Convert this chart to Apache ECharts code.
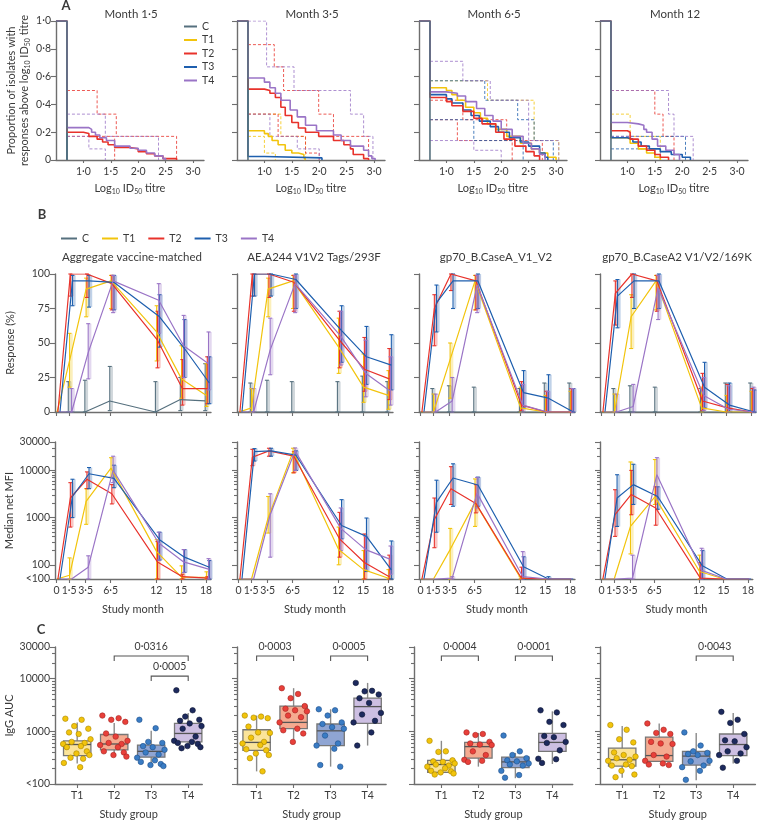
<!DOCTYPE html>
<html><head><meta charset="utf-8">
<script src="https://cdn.jsdelivr.net/npm/echarts@6/dist/echarts.min.js"></script>
<style>html,body{margin:0;padding:0;background:#fff}#c{width:757px;height:822px}</style>
</head><body><div id="c"></div>
<script>
// ================= DATA =================
const groups = ['C','T1','T2','T3','T4'];
const boxGroups = ['T1','T2','T3','T4'];
const months = [0,1.5,3.5,6.5,12,15,18];
const monthLabels = ['0','1·5','3·5','6·5','12','15','18'];
const panelATitles = ['Month 1·5','Month 3·5','Month 6·5','Month 12'];
const antigenTitles = ['Aggregate vaccine-matched','AE.A244 V1V2 Tags/293F','gp70_B.CaseA_V1_V2','gp70_B.CaseA2 V1/V2/169K'];
const titreTicks = [1,1.5,2,2.5,3];
const propTicks = [0,0.2,0.4,0.6,0.8,1.0];
const respTicks = [0,25,50,75,100];
const mfiTickValues = [50,100,1000,10000,40000];
const mfiTickLabels = ['<100','100','1000','10000','30000'];
const aucTickValues = [100,1000,10000,40000];
const aucTickLabels = ['<100','1000','10000','30000'];
const logMinorTicks = [200,300,400,500,600,700,800,900,2000,3000,4000,5000,6000,7000,8000,9000,20000,30000];

// ---- Panel A: proportion of isolates above titre (step curves [log10 titre, proportion]) ----
const a1_C  = [[0.5,1],[0.7,0]];
const a1_T1 = [[0.5,1],[0.7,0]];
const a1_T3 = [[0.5,1],[0.7,0]];
const a1_T2 = [[0.5,1],[0.7,0.20],[1.0,0.19],[1.1,0.17],[1.25,0.15],[1.35,0.13],[1.45,0.11],[1.57,0.09],[1.85,0.08],[2.0,0.06],[2.15,0.045],[2.3,0.03],[2.45,0.01],[2.7,0]];
const a1_T4 = [[0.5,1],[0.7,0.233],[1.1,0.22],[1.15,0.20],[1.22,0.18],[1.3,0.16],[1.42,0.14],[1.57,0.10],[1.85,0.085],[2.0,0.07],[2.15,0.05],[2.3,0.03],[2.45,0.01],[2.5,0]];
const a1_T2_hi = [[0.7,0.5],[1.25,0.33],[1.6,0.17],[2.7,0]];
const a1_T2_lo = [[0.7,0.17],[1.57,0]];
const a1_T4_hi = [[0.7,0.33],[1.4,0.17],[2.37,0]];
const a1_T4_lo = [[0.7,0.17],[1.1,0.08],[1.4,0]];

const a2_C  = [[0.5,1],[0.7,0]];
const a2_T1 = [[0.5,1],[0.7,0.21],[1.0,0.19],[1.07,0.17],[1.14,0.14],[1.25,0.11],[1.38,0.07],[1.5,0.05],[1.62,0.04],[1.72,0.02],[1.75,0]];
const a2_T2 = [[0.5,1],[0.7,0.51],[1.0,0.50],[1.1,0.48],[1.2,0.45],[1.3,0.38],[1.38,0.32],[1.5,0.27],[1.62,0.23],[1.75,0.20],[1.99,0.17],[2.26,0.14],[2.45,0.11],[2.57,0.08],[2.62,0.04],[2.81,0.01],[2.9,0]];
const a2_T3 = [[0.5,1],[0.7,0.025],[1.0,0.015],[2.05,0]];
const a2_T4 = [[0.5,1],[0.7,0.59],[1.0,0.56],[1.1,0.52],[1.2,0.48],[1.3,0.43],[1.47,0.36],[1.6,0.31],[1.75,0.25],[1.95,0.21],[2.26,0.18],[2.4,0.14],[2.57,0.10],[2.81,0.07],[2.9,0.03],[2.96,0.01],[3.02,0]];
const a2_T4_hi = [[0.7,1.0],[1.04,0.67],[1.54,0.5],[2.57,0.33],[2.81,0.17],[2.98,0]];
const a2_T4_lo = [[0.7,0.33],[1.1,0.17],[1.6,0.08],[2.0,0]];
const a2_T2_hi = [[0.7,0.83],[1.18,0.67],[1.35,0.5],[1.99,0.33],[2.26,0.17],[2.9,0]];
const a2_T2_lo = [[0.7,0.33],[1.25,0.17],[1.75,0.05],[2.0,0]];
const a2_T1_hi = [[0.7,0.33],[1.3,0.17],[1.75,0]];
const a2_T1_lo = [[0.7,0.17],[1.0,0.05],[1.2,0]];

const a3_C  = [[0.5,1],[0.7,0]];
const a3_T1 = [[0.5,1],[0.7,0.52],[1.0,0.50],[1.1,0.47],[1.2,0.43],[1.35,0.38],[1.5,0.34],[1.62,0.30],[1.75,0.26],[1.9,0.22],[2.1,0.17],[2.35,0.12],[2.55,0.08],[2.7,0.05],[2.85,0.02],[3.0,0]];
const a3_T2 = [[0.5,1],[0.7,0.45],[1.0,0.42],[1.1,0.39],[1.3,0.35],[1.5,0.30],[1.65,0.26],[1.9,0.20],[2.05,0.15],[2.25,0.10],[2.45,0.06],[2.6,0.03],[2.7,0]];
const a3_T3 = [[0.5,1],[0.7,0.47],[1.0,0.44],[1.1,0.41],[1.3,0.36],[1.45,0.32],[1.6,0.28],[1.8,0.24],[1.95,0.20],[2.15,0.16],[2.35,0.13],[2.5,0.10],[2.7,0.05],[2.8,0.02],[2.85,0]];
const a3_T4 = [[0.5,1],[0.7,0.49],[1.0,0.48],[1.2,0.46],[1.35,0.42],[1.55,0.37],[1.7,0.32],[1.85,0.28],[2.0,0.22],[2.2,0.17],[2.4,0.12],[2.55,0.08],[2.7,0.04],[2.8,0]];
const a3_T4_hi = [[0.7,0.71],[1.3,0.57],[1.8,0.43],[2.5,0.14],[3.05,0]];
const a3_T1_hi = [[0.7,0.57],[1.75,0.43],[2.6,0.14],[3.05,0]];
const a3_T3_hi = [[0.7,0.57],[1.7,0.43],[2.3,0.29],[2.6,0.14],[2.95,0]];
const a3_T2_hi = [[0.7,0.43],[1.3,0.29],[2.1,0.14],[2.75,0]];
const a3_T3_lo = [[0.7,0.29],[1.5,0.14],[2.4,0]];
const a3_T4_lo = [[0.7,0.14],[1.5,0.07],[2.0,0]];
const a3_T2_lo = [[0.7,0.29],[1.2,0.14],[2.2,0]];

const a4_C  = [[0.5,1],[0.7,0]];
const a4_T1 = [[0.5,1],[0.7,0.16],[1.0,0.15],[1.05,0.12],[1.2,0.08],[1.35,0.05],[1.5,0.02],[1.6,0]];
const a4_T2 = [[0.5,1],[0.7,0.21],[1.0,0.20],[1.05,0.15],[1.2,0.10],[1.35,0.07],[1.5,0.04],[1.6,0.02],[1.75,0]];
const a4_T3 = [[0.5,1],[0.7,0.16],[1.0,0.15],[1.1,0.13],[1.25,0.10],[1.4,0.08],[1.6,0.06],[1.8,0.04],[2.0,0.02],[2.15,0]];
const a4_T4 = [[0.5,1],[0.7,0.27],[1.0,0.26],[1.2,0.25],[1.3,0.22],[1.35,0.20],[1.45,0.15],[1.55,0.10],[1.7,0.07],[1.85,0.04],[1.95,0]];
const a4_T2_hi = [[0.7,0.5],[1.5,0.33],[1.65,0.17],[1.85,0]];
const a4_T4_hi = [[0.7,0.5],[1.75,0.33],[1.85,0.17],[2.2,0]];
const a4_T1_hi = [[0.7,0.33],[1.05,0.17],[1.6,0]];
const a4_T3_hi = [[0.7,0.17],[2.06,0]];
const a4_T3_lo = [[0.7,0.08],[1.5,0]];
const a4_T4_lo = [[0.7,0.17],[1.2,0.08],[1.6,0]];

// ---- Panel B: response (%) medians and CIs (CI for months 1.5..18) ----
const rAgg_C  = [0,0,0,8,0,9,8];      const rAgg_C_ci  = [[0,22],[0,23],[1,33],[0,22],[1,25],[1,35]];
const rAgg_T1 = [0,37,89,95,58,24,12]; const rAgg_T1_ci = [[18,57],[69,97],[75,99],[37,77],[10,48],[4,35]];
const rAgg_T2 = [0,100,100,93,52,17,17]; const rAgg_T2_ci = [[84,100],[83,100],[74,99],[32,73],[5,38],[6,40]];
const rAgg_T3 = [0,95,95,94,69,46,21]; const rAgg_T3_ci = [[77,99],[76,99],[74,99],[47,85],[25,67],[6,40]];
const rAgg_T4 = [0,0,43,95,81,48,35];  const rAgg_T4_ci = [[0,17],[24,64],[72,99],[57,93],[25,70],[16,58]];

const rAE_C  = [0,0,0,0,0,0,0];        const rAE_C_ci  = [[0,21],[0,23],[0,22],[0,22],[0,26],[0,22]];
const rAE_T1 = [0,3,89,95,47,18,12];   const rAE_T1_ci = [[0,17],[69,97],[75,99],[28,68],[7,42],[2,30]];
const rAE_T2 = [0,100,100,94,52,31,24]; const rAE_T2_ci = [[84,100],[83,100],[73,99],[32,73],[15,54],[9,46]];
const rAE_T3 = [0,100,100,96,59,40,34]; const rAE_T3_ci = [[84,100],[84,100],[75,100],[36,77],[20,62],[16,56]];
const rAE_T4 = [0,0,45,93,55,28,15];   const rAE_T4_ci = [[0,17],[27,68],[72,99],[34,73],[11,52],[5,40]];

const rCA_C  = [0,0,0,0,0,0,0];        const rCA_C_ci  = [[0,17],[0,19],[0,18],[0,17],[0,21],[0,21]];
const rCA_T1 = [0,0,38,95,3,0,0];      const rCA_T1_ci = [[0,13],[10,50],[74,99],[0,18],[0,12],[0,15]];
const rCA_T2 = [0,75,100,95,5,0,0];    const rCA_T2_ci = [[48,85],[88,100],[74,99],[1,22],[0,15],[0,17]];
const rCA_T3 = [0,79,95,95,14,10,0];   const rCA_T3_ci = [[58,92],[75,100],[75,100],[3,30],[0,27],[0,17]];
const rCA_T4 = [0,0,8,92,5,0,0];       const rCA_T4_ci = [[0,13],[0,25],[72,99],[0,20],[0,15],[0,17]];

const rCA2_C  = [0,0,0,0,0,0,0];       const rCA2_C_ci  = [[0,17],[0,19],[0,18],[0,17],[0,21],[0,21]];
const rCA2_T1 = [0,0,69,95,3,0,0];     const rCA2_T1_ci = [[0,13],[46,85],[74,99],[0,18],[0,12],[0,15]];
const rCA2_T2 = [0,86,100,95,8,3,0];   const rCA2_T2_ci = [[63,95],[83,100],[73,99],[1,28],[0,20],[0,17]];
const rCA2_T3 = [0,84,95,95,18,5,0];   const rCA2_T3_ci = [[61,96],[75,100],[75,100],[3,36],[0,21],[0,16]];
const rCA2_T4 = [0,0,4,90,12,2,0];     const rCA2_T4_ci = [[0,13],[0,20],[67,99],[1,25],[0,19],[0,18]];

// ---- Panel B: median net MFI (50 = "<100") ----
const mAgg_T1 = [50,60,2200,11200,190,55,54];   const mAgg_T1_ci = [[50,140],[720,4100],[7200,18600],[50,340],[50,95],[50,71]];
const mAgg_T2 = [50,2600,6500,3200,115,56,52];  const mAgg_T2_ci = [[630,5500],[4100,9300],[1950,5000],[50,310],[50,63],[50,56]];
const mAgg_T3 = [50,2800,8500,6800,340,145,89]; const mAgg_T3_ci = [[1000,6500],[4100,11500],[4300,12900],[126,490],[69,210],[50,123]];
const mAgg_T4 = [50,50,89,10000,290,115,81];    const mAgg_T4_ci = [[50,50],[50,155],[5500,20000],[126,490],[68,210],[50,135]];

const mAE_T1 = [50,50,980,25000,210,79,52];     const mAE_T1_ci = [[50,50],[470,2800],[8900,29500],[100,630],[50,200],[50,79]];
const mAE_T2 = [50,19000,26000,20000,355,112,56]; const mAE_T2_ci = [[12600,28000],[20000,29500],[8900,25000],[145,1290],[50,450],[50,160]];
const mAE_T3 = [50,25000,26000,21000,680,400,78]; const mAE_T3_ci = [[15800,29000],[20000,29500],[10000,26000],[355,2400],[72,980],[50,320]];
const mAE_T4 = [50,50,1150,26000,590,210,130];  const mAE_T4_ci = [[50,50],[145,3200],[10000,30000],[200,1600],[79,400],[63,250]];

const mCA_T1 = [50,50,210,2100,52,50,50];       const mCA_T1_ci = [[50,50],[50,590],[650,6600],[50,56],[50,50],[50,50]];
const mCA_T2 = [50,910,4100,2000,52,50,50];     const mCA_T2_ci = [[230,2600],[1900,12000],[1260,5000],[50,89],[50,50],[50,50]];
const mCA_T3 = [50,2100,6900,4900,91,50,50];    const mCA_T3_ci = [[490,6200],[1740,13800],[1740,7200],[50,148],[50,56],[50,50]];
const mCA_T4 = [50,50,52,3300,56,50,50];        const mCA_T4_ci = [[50,50],[50,56],[1600,7100],[50,190],[50,50],[50,50]];

const mCA2_T1 = [50,50,650,2750,72,50,50];      const mCA2_T1_ci = [[50,50],[170,15100],[1900,17000],[50,160],[50,50],[50,50]];
const mCA2_T2 = [50,1150,3100,1600,52,50,50];   const mCA2_T2_ci = [[400,3900],[1150,10000],[690,4500],[50,112],[50,50],[50,50]];
const mCA2_T3 = [50,2600,5000,2800,95,50,50];   const mCA2_T3_ci = [[650,8100],[1900,13500],[1500,4500],[50,200],[50,50],[50,50]];
const mCA2_T4 = [50,50,52,8100,76,50,50];       const mCA2_T4_ci = [[50,50],[50,160],[2400,18600],[50,224],[50,50],[50,50]];

// ---- Panel C: IgG AUC (log10) per animal, and box stats [min, Q1, median, Q3, max] ----
const c1_T1 = [3.24,3.22,3.10,3.05,2.98,2.95,2.85,2.80,2.78,2.76,2.72,2.70,2.62,2.58,2.55,2.50,2.48,2.40,2.32];
const c1_T2 = [3.30,3.25,3.22,3.18,2.96,2.90,2.82,2.78,2.76,2.74,2.70,2.62,2.60,2.55,2.52];
const c1_T3 = [3.22,3.06,2.80,2.78,2.72,2.70,2.65,2.60,2.56,2.50,2.45,2.42,2.38,2.36,2.34];
const c1_T4 = [3.78,3.40,3.28,3.22,3.20,3.15,3.10,3.05,2.90,2.82,2.80,2.78,2.76,2.72,2.70,2.68];
const c2_T1 = [3.30,3.28,3.26,3.25,3.09,2.98,2.97,2.88,2.80,2.77,2.74,2.66,2.64,2.58,2.55,2.49,2.24];
const c2_T2 = [3.82,3.71,3.63,3.48,3.43,3.40,3.38,3.30,3.27,3.17,3.05,3.02,2.96,2.80];
const c2_T3 = [3.42,3.40,3.30,3.17,3.14,3.08,3.05,2.92,2.77,2.73,2.67,2.36,2.33];
const c2_T4 = [3.92,3.77,3.76,3.70,3.63,3.54,3.35,3.32,3.20,3.17,2.98,2.73];
const c3_T1 = [2.82,2.62,2.61,2.45,2.43,2.42,2.39,2.37,2.35,2.33,2.30,2.25,2.24,2.22,2.20,2.18];
const c3_T2 = [2.98,2.95,2.93,2.80,2.77,2.75,2.74,2.62,2.55,2.46,2.44,2.42];
const c3_T3 = [2.92,2.62,2.55,2.49,2.45,2.43,2.39,2.37,2.35,2.25,2.17,2.12];
const c3_T4 = [3.40,3.36,3.18,3.12,2.91,2.89,2.80,2.78,2.64,2.48,2.47,2.40];
const c4_T1 = [3.12,3.03,2.85,2.79,2.60,2.55,2.52,2.49,2.46,2.44,2.37,2.35,2.34,2.25,2.18,2.13];
const c4_T2 = [3.15,3.03,2.97,2.95,2.80,2.77,2.76,2.55,2.52,2.44,2.39,2.37,2.36];
const c4_T3 = [2.98,2.73,2.62,2.59,2.57,2.55,2.44,2.43,2.35,2.32,2.25,2.08];
const c4_T4 = [3.37,3.22,3.16,2.95,2.83,2.81,2.70,2.62,2.58,2.55,2.44,2.31];
const c1_box = [[2.39,2.54,2.75,2.82,3.17],[2.54,2.65,2.76,2.94,3.16],[2.39,2.51,2.62,2.74,3.01],[2.70,2.80,2.96,3.15,3.35]];
const c2_box = [[2.24,2.64,2.79,3.03,3.30],[2.79,3.05,3.17,3.48,3.82],[2.33,2.73,3.01,3.14,3.42],[2.73,3.15,3.47,3.63,3.92]];
const c3_box = [[2.17,2.22,2.37,2.45,2.82],[2.33,2.49,2.71,2.79,2.97],[2.11,2.31,2.42,2.51,2.59],[2.38,2.62,2.79,2.96,3.38]];
const c4_box = [[2.12,2.34,2.46,2.68,3.10],[2.43,2.43,2.54,2.89,3.15],[2.07,2.36,2.53,2.62,2.97],[2.39,2.54,2.75,2.95,3.35]];
// significance: [group a, group b, p-value label, bracket level]
const c1_sig = [[2,4,'0·0316',0],[3,4,'0·0005',1]];
const c2_sig = [[1,2,'0·0003',0],[3,4,'0·0005',0]];
const c3_sig = [[1,2,'0·0004',0],[3,4,'0·0001',0]];
const c4_sig = [[3,4,'0·0043',0]];

// ================= STYLE =================
const FONT = 'Lato, "Noto Sans", sans-serif';
const TXT = '#3a3a3a';
const AXC = '#6e6e6e';
const COL = {C:'#56707e', T1:'#f2c40c', T2:'#e8322b', T3:'#1e5fae', T4:'#9a74c6'};
const colArr = groups.map(g => COL[g]);
const DODGE = [-0.1, 0.05, 0.15, 0.4, 0.3];
const A_DRAW_ORDER = [1,3,2,4,0];
const BOXFILL = ['#fbe49a','#f5aa90','#8fa5d3','#cdbfe2'];
const PTCOL = ['#f2c40c','#e8403a','#3a7cc4','#1d2a5e'];
const PTBORDER = ['#a88400','#a52420','#1f4f8a','#0d1533'];
const JIT = [-0.32,0.12,-0.08,0.3,-0.22,0.04,0.36,-0.15,0.2,-0.38,0.1,-0.28,0.26,-0.02,0.33,-0.18,0.16,-0.36,0.08,0.24];
const BRACKET_LEVEL = [Math.log10(27000), Math.log10(11200)];
const RICH = {s:{fontSize:7, lineHeight:8, verticalAlign:'bottom', fontFamily:FONT, color:TXT}};
const L10 = Math.log10;

const aCurves = [
  [a1_C,a1_T1,a1_T2,a1_T3,a1_T4],
  [a2_C,a2_T1,a2_T2,a2_T3,a2_T4],
  [a3_C,a3_T1,a3_T2,a3_T3,a3_T4],
  [a4_C,a4_T1,a4_T2,a4_T3,a4_T4]
];
const aCI = [
  [['T2',a1_T2_hi],['T2',a1_T2_lo],['T4',a1_T4_hi],['T4',a1_T4_lo]],
  [['T1',a2_T1_hi],['T1',a2_T1_lo],['T2',a2_T2_hi],['T2',a2_T2_lo],['T4',a2_T4_hi],['T4',a2_T4_lo]],
  [['T1',a3_T1_hi],['T2',a3_T2_hi],['T2',a3_T2_lo],['T3',a3_T3_hi],['T3',a3_T3_lo],['T4',a3_T4_hi],['T4',a3_T4_lo]],
  [['T1',a4_T1_hi],['T2',a4_T2_hi],['T3',a4_T3_hi],['T3',a4_T3_lo],['T4',a4_T4_hi],['T4',a4_T4_lo]]
];
const respSets = [
  [rAgg_C,rAgg_T1,rAgg_T2,rAgg_T3,rAgg_T4],
  [rAE_C,rAE_T1,rAE_T2,rAE_T3,rAE_T4],
  [rCA_C,rCA_T1,rCA_T2,rCA_T3,rCA_T4],
  [rCA2_C,rCA2_T1,rCA2_T2,rCA2_T3,rCA2_T4]
];
const respCISets = [
  [rAgg_C_ci,rAgg_T1_ci,rAgg_T2_ci,rAgg_T3_ci,rAgg_T4_ci],
  [rAE_C_ci,rAE_T1_ci,rAE_T2_ci,rAE_T3_ci,rAE_T4_ci],
  [rCA_C_ci,rCA_T1_ci,rCA_T2_ci,rCA_T3_ci,rCA_T4_ci],
  [rCA2_C_ci,rCA2_T1_ci,rCA2_T2_ci,rCA2_T3_ci,rCA2_T4_ci]
];
const mfiSets = [
  [null,mAgg_T1,mAgg_T2,mAgg_T3,mAgg_T4],
  [null,mAE_T1,mAE_T2,mAE_T3,mAE_T4],
  [null,mCA_T1,mCA_T2,mCA_T3,mCA_T4],
  [null,mCA2_T1,mCA2_T2,mCA2_T3,mCA2_T4]
];
const mfiCISets = [
  [null,mAgg_T1_ci,mAgg_T2_ci,mAgg_T3_ci,mAgg_T4_ci],
  [null,mAE_T1_ci,mAE_T2_ci,mAE_T3_ci,mAE_T4_ci],
  [null,mCA_T1_ci,mCA_T2_ci,mCA_T3_ci,mCA_T4_ci],
  [null,mCA2_T1_ci,mCA2_T2_ci,mCA2_T3_ci,mCA2_T4_ci]
];
const cPoints = [[c1_T1,c1_T2,c1_T3,c1_T4],[c2_T1,c2_T2,c2_T3,c2_T4],[c3_T1,c3_T2,c3_T3,c3_T4],[c4_T1,c4_T2,c4_T3,c4_T4]];
const cBoxes = [c1_box,c2_box,c3_box,c4_box];
const cSig = [c1_sig,c2_sig,c3_sig,c4_sig];

// ================= BUILD =================
const fmtDot = (v,d) => v.toFixed(d).replace('.', '·');
const grids = [], xAxes = [], yAxes = [], series = [], graphics = [];

function mkAxis(o){
  return {
    type:'value', gridIndex:o.grid, min:o.min, max:o.max, position:o.position,
    axisLine:{show:o.line!==false, onZero:false, lineStyle:{color:AXC, width:1.4}},
    axisTick:{show:true, length:o.tickLen||4, customValues:o.ticks, lineStyle:{color:AXC, width:1.1}},
    axisLabel:{show:!!o.labels, customValues:o.ticks, formatter:o.fmt, color:TXT, fontSize:10.5, fontFamily:FONT, margin:o.margin||5},
    splitLine:{show:false},
    name:o.name||'', nameLocation:'middle', nameGap:o.nameGap||24,
    nameTextStyle:{color:TXT, fontSize:11, fontFamily:FONT, lineHeight:13, rich:RICH}
  };
}
function lookupFmt(vals, labels){ return v => { const i = vals.findIndex(t => Math.abs(t - v) < 1e-6); return i >= 0 ? labels[i] : ''; }; }
function addText(t, x, y, size, bold){
  graphics.push({type:'text', x:x, y:y, silent:true, style:{text:t, font:(bold?'bold ':'')+size+'px '+FONT, fill:TXT, align:'center', verticalAlign:'middle', textAlign:'center', textVerticalAlign:'middle'}});
}

// ---------- Panel A ----------
const aLeft = [56,237,419,600];
for (let m = 0; m < 4; m++){
  grids.push({left:aLeft[m], top:21, width:148, height:139});
  xAxes.push(mkAxis({grid:m, min:0.5, max:3.2, ticks:titreTicks, labels:true, fmt:v=>fmtDot(v,1), tickLen:3, margin:6,
    name:'Log{s|10} ID{s|50} titre', nameGap:22}));
  yAxes.push(mkAxis({grid:m, min:0, max:1, ticks:propTicks, labels:m===0, fmt:v=> v===0?'0':fmtDot(v,1), tickLen:5, position:'left',
    name: m===0 ? 'Proportion of isolates with\nresponses above log{s|10} ID{s|50} titre' : '', nameGap:25}));
  aCI[m].forEach(([g, pts]) => series.push({type:'line', name:g+' CI', xAxisIndex:m, yAxisIndex:m, data:pts, step:'end',
    symbol:'none', silent:true, lineStyle:{color:COL[g], width:1, type:[3,2], opacity:0.8}, z:1}));
  A_DRAW_ORDER.forEach(k => { const g = groups[k]; series.push({type:'line', name:g, xAxisIndex:m, yAxisIndex:m, data:aCurves[m][k], step:'end',
    symbol:'none', silent:true, lineStyle:{color:COL[g], width:1.6}, itemStyle:{color:COL[g]}, z:3}); });
  addText(panelATitles[m], aLeft[m]+75, 14, 11.5);
}

// ---------- Panel B ----------
const bLeft = [55,237,419,600];
function errRender(params, api){
  const mo = api.value(0), lo = api.value(1), hi = api.value(2), g = api.value(3);
  const x = mo + DODGE[g];
  const pLo = api.coord([x, lo]), pHi = api.coord([x, hi]);
  const h = pLo[1] - pHi[1];
  if (h < 0.8) return null;
  const c = colArr[g];
  return {type:'group', children:[
    {type:'rect', shape:{x:pLo[0]+0.6, y:pHi[1], width:2.6, height:h}, style:{fill:c, opacity:0.28}},
    {type:'line', shape:{x1:pLo[0], y1:pLo[1], x2:pHi[0], y2:pHi[1]}, style:{stroke:c, lineWidth:1.1}},
    {type:'line', shape:{x1:pLo[0]-2, y1:pLo[1], x2:pLo[0]+2, y2:pLo[1]}, style:{stroke:c, lineWidth:1.1}},
    {type:'line', shape:{x1:pHi[0]-2, y1:pHi[1], x2:pHi[0]+2, y2:pHi[1]}, style:{stroke:c, lineWidth:1.1}}
  ]};
}
const mfiTickLog = mfiTickValues.map(L10);
const aucTickLog = aucTickValues.map(L10);
const minorLog = logMinorTicks.map(L10);
const minorAxes = [];
for (let s = 0; s < 4; s++){
  // response row
  const gi = 4 + s;
  grids.push({left:bLeft[s], top:274, width:156, height:138});
  xAxes.push(mkAxis({grid:gi, min:-0.2, max:18.6, ticks:months, labels:false, tickLen:4}));
  yAxes.push(mkAxis({grid:gi, min:0, max:100, ticks:respTicks, labels:s===0, tickLen:5, position:'left', name:s===0?'Response (%)':'', nameGap:38}));
  const errR = [];
  groups.forEach((g,k) => respCISets[s][k].forEach((ci,i) => errR.push([months[i+1], ci[0], ci[1], k])));
  series.push({type:'custom', name:'resp-err', xAxisIndex:gi, yAxisIndex:gi, renderItem:errRender, data:errR, silent:true, z:2});
  groups.forEach((g,k) => series.push({type:'line', name:g, xAxisIndex:gi, yAxisIndex:gi, symbol:'none', silent:true,
    data:respSets[s][k].map((v,i) => [months[i]+DODGE[k], v]), lineStyle:{color:COL[g], width:1.2}, itemStyle:{color:COL[g]}, z:3}));
  addText(antigenTitles[s], bLeft[s]+77, 257, 11.5);
}
for (let s = 0; s < 4; s++){
  // MFI row
  const gi = 8 + s;
  grids.push({left:bLeft[s], top:442, width:156, height:137});
  xAxes.push(mkAxis({grid:gi, min:-0.2, max:18.6, ticks:months, labels:true, fmt:lookupFmt(months, monthLabels), tickLen:4, margin:6,
    name:'Study month', nameGap:24}));
  yAxes.push(mkAxis({grid:gi, min:L10(50), max:L10(40000), ticks:mfiTickLog, labels:s===0, fmt:lookupFmt(mfiTickLog, mfiTickLabels),
    tickLen:5, position:'left', name:s===0?'Median net MFI':'', nameGap:38}));
  minorAxes.push(mkAxis({grid:gi, min:L10(50), max:L10(40000), ticks:minorLog, labels:false, tickLen:3, line:false, position:'left'}));
  const errM = [];
  groups.forEach((g,k) => { if (mfiCISets[s][k]) mfiCISets[s][k].forEach((ci,i) => errM.push([months[i+1], L10(ci[0]), L10(ci[1]), k])); });
  series.push({type:'custom', name:'mfi-err', xAxisIndex:gi, yAxisIndex:gi, renderItem:errRender, data:errM, silent:true, z:2});
  groups.forEach((g,k) => { if (mfiSets[s][k]) series.push({type:'line', name:g, xAxisIndex:gi, yAxisIndex:gi, symbol:'none', silent:true,
    data:mfiSets[s][k].map((v,i) => [months[i]+DODGE[k], L10(v)]), lineStyle:{color:COL[g], width:1.2}, itemStyle:{color:COL[g]}, z:3}); });
}

// ---------- Panel C ----------
const cLeft = [55,237,414,600];
const cMin = [0.4,0.47,0.26,0.4];
const cMax = [4.38,4.5,4.55,4.6];
function boxRender(params, api){
  const x = api.value(0), lo = api.value(1), q1 = api.value(2), med = api.value(3), q3 = api.value(4), hi = api.value(5), g = api.value(6);
  const w = api.size([0.74, 0])[0];
  const pLo = api.coord([x, lo]), pQ1 = api.coord([x, q1]), pM = api.coord([x, med]), pQ3 = api.coord([x, q3]), pHi = api.coord([x, hi]);
  return {type:'group', children:[
    {type:'line', shape:{x1:pLo[0], y1:pLo[1], x2:pHi[0], y2:pHi[1]}, style:{stroke:'#8a8a8a', lineWidth:1.4}},
    {type:'rect', shape:{x:pQ3[0]-w/2, y:pQ3[1], width:w, height:Math.max(pQ1[1]-pQ3[1],1)}, style:{fill:BOXFILL[g], stroke:'#777', lineWidth:1.3}},
    {type:'line', shape:{x1:pM[0]-w/2, y1:pM[1], x2:pM[0]+w/2, y2:pM[1]}, style:{stroke:'#555', lineWidth:1.3}}
  ]};
}
function sigRender(s){
  return function(params, api){
    const b = cSig[s][params.dataIndex];
    const yv = BRACKET_LEVEL[b[3]];
    const p1 = api.coord([b[0], yv]), p2 = api.coord([b[1], yv]);
    return {type:'group', children:[
      {type:'polyline', shape:{points:[[p1[0],p1[1]+5],[p1[0],p1[1]],[p2[0],p2[1]],[p2[0],p2[1]+5]]}, style:{stroke:'#555', lineWidth:1.1, fill:'none'}},
      {type:'text', x:(p1[0]+p2[0])/2, y:p1[1]-9, style:{text:b[2], font:'10.5px '+FONT, fill:TXT, align:'center', verticalAlign:'middle', textAlign:'center', textVerticalAlign:'middle'}}
    ]};
  };
}
for (let s = 0; s < 4; s++){
  const gi = 12 + s;
  grids.push({left:cLeft[s], top:647, width:(cMax[s]-cMin[s])*37, height:139});
  xAxes.push(mkAxis({grid:gi, min:cMin[s], max:cMax[s], ticks:[1,2,3,4], labels:true, fmt:v=>boxGroups[Math.round(v)-1], tickLen:4, margin:6,
    name:'Study group', nameGap:24}));
  yAxes.push(mkAxis({grid:gi, min:L10(100), max:L10(40000), ticks:aucTickLog, labels:s===0, fmt:lookupFmt(aucTickLog, aucTickLabels),
    tickLen:5, position:'left', name:s===0?'IgG AUC':'', nameGap:38}));
  minorAxes.push(mkAxis({grid:gi, min:L10(100), max:L10(40000), ticks:minorLog, labels:false, tickLen:3, line:false, position:'left'}));
  series.push({type:'custom', name:'box', xAxisIndex:gi, yAxisIndex:gi, renderItem:boxRender, silent:true, z:2,
    data:cBoxes[s].map((b,k) => [k+1, b[0], b[1], b[2], b[3], b[4], k])});
  cPoints[s].forEach((pts,k) => series.push({type:'scatter', name:'pts'+k, xAxisIndex:gi, yAxisIndex:gi, silent:true, z:4,
    symbolSize:5.5, itemStyle:{color:PTCOL[k], borderColor:PTBORDER[k], borderWidth:0.6, opacity:1},
    data:pts.map((v,i) => [k+1+JIT[i % JIT.length], v])}));
  series.push({type:'custom', name:'sig', xAxisIndex:gi, yAxisIndex:gi, renderItem:sigRender(s), silent:true, z:5,
    data:cSig[s].map(b => [b[0], BRACKET_LEVEL[b[3]], b[1]])});
}
minorAxes.forEach(a => yAxes.push(a));

addText('A', 66, 6, 13, true);
addText('B', 42, 215, 13, true);
addText('C', 41, 630, 13, true);

const legendText = {fontSize:10.5, color:TXT, fontFamily:FONT};
const option = {
  animation:false,
  backgroundColor:'#fff',
  textStyle:{fontFamily:FONT},
  grid:grids, xAxis:xAxes, yAxis:yAxes, series:series,
  graphic:graphics,
  legend:[
    {data:groups, orient:'vertical', left:179, top:16, icon:'rect', itemWidth:13, itemHeight:2, itemGap:2.5, selectedMode:false, textStyle:legendText},
    {data:groups, orient:'horizontal', left:56, top:228, icon:'rect', itemWidth:16, itemHeight:2, itemGap:13, selectedMode:false, textStyle:legendText}
  ]
};
const chart = echarts.init(document.getElementById('c'), null, {renderer:'canvas'});
chart.setOption(option);
</script>
</body></html>
